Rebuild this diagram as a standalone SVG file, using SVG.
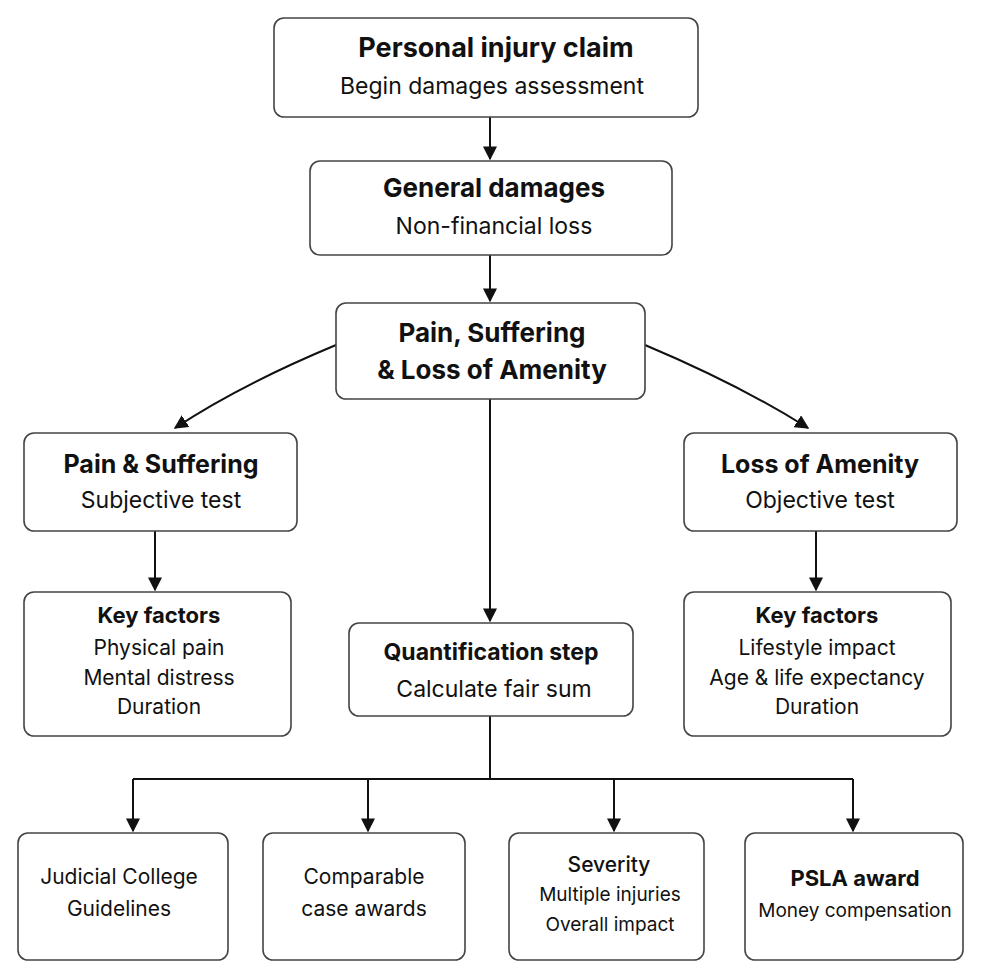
<svg xmlns="http://www.w3.org/2000/svg" width="981" height="979" viewBox="0 0 981 979">
<defs>
<marker id="ah" viewBox="0 0 10 10" refX="9" refY="5" markerWidth="7" markerHeight="7" orient="auto"><path d="M0,0 L10,5 L0,10 z" fill="#111"/></marker>
<style>
.b{fill:#fff;stroke:#444;stroke-width:1.6}
text{font-family:Inter,"Liberation Sans",sans-serif;fill:#111;text-anchor:middle}
.t{font-weight:bold;font-size:26px}
.s{font-size:23px}
.m{font-size:21px}
.k{font-size:19px}
.c{fill:none;stroke:#111;stroke-width:2}
</style>
</defs>
<rect width="981" height="979" fill="#fff"/>
<g id="connectors">
<path class="c" d="M490,117 V159" marker-end="url(#ah)"/>
<path class="c" d="M490,255 V301" marker-end="url(#ah)"/>
<path class="c" d="M336,345 Q240,385 175,428" marker-end="url(#ah)"/>
<path class="c" d="M645,345 Q740,385 808,428" marker-end="url(#ah)"/>
<path class="c" d="M490,399 V621" marker-end="url(#ah)"/>
<path class="c" d="M155,531 V590" marker-end="url(#ah)"/>
<path class="c" d="M816,531 V590" marker-end="url(#ah)"/>
<path class="c" d="M490,716 V779 M133,779 H853"/>
<path class="c" d="M133,779 V831" marker-end="url(#ah)"/>
<path class="c" d="M368,779 V831" marker-end="url(#ah)"/>
<path class="c" d="M614,779 V831" marker-end="url(#ah)"/>
<path class="c" d="M853,779 V831" marker-end="url(#ah)"/>
</g>
<g id="n1"><rect class="b" x="274" y="18" width="424" height="99" rx="10"/><text class="t" x="496" y="57" style="font-size:27px">Personal injury claim</text><text class="s" x="492" y="94">Begin damages assessment</text></g>
<g id="n2"><rect class="b" x="310" y="161" width="362" height="94" rx="10"/><text class="t" x="494" y="197">General damages</text><text class="s" x="494" y="234">Non-financial loss</text></g>
<g id="n3"><rect class="b" x="336" y="303" width="309" height="96" rx="10"/><text class="t" x="492" y="342">Pain, Suffering</text><text class="t" x="492" y="379">&amp; Loss of Amenity</text></g>
<g id="n4"><rect class="b" x="24" y="433" width="273" height="98" rx="10"/><text class="t" x="161" y="473" style="font-size:25px">Pain &amp; Suffering</text><text class="s" x="161" y="508">Subjective test</text></g>
<g id="n5"><rect class="b" x="684" y="433" width="273" height="98" rx="10"/><text class="t" x="820" y="473" style="font-size:25px">Loss of Amenity</text><text class="s" x="820" y="508">Objective test</text></g>
<g id="n6"><rect class="b" x="24" y="592" width="267" height="144" rx="10"/><text class="t" x="159" y="623" style="font-size:22px">Key factors</text><text class="m" x="159" y="655">Physical pain</text><text class="m" x="159" y="685">Mental distress</text><text class="m" x="159" y="714">Duration</text></g>
<g id="n7"><rect class="b" x="684" y="592" width="267" height="144" rx="10"/><text class="t" x="817" y="623" style="font-size:22px">Key factors</text><text class="m" x="817" y="655">Lifestyle impact</text><text class="m" x="817" y="685">Age &amp; life expectancy</text><text class="m" x="817" y="714">Duration</text></g>
<g id="n8"><rect class="b" x="349" y="623" width="284" height="93" rx="10"/><text class="t" x="491" y="660" style="font-size:23px">Quantification step</text><text class="s" x="494" y="697">Calculate fair sum</text></g>
<g id="n9"><rect class="b" x="18" y="833" width="210" height="127" rx="10"/><text class="m" x="119" y="884">Judicial College</text><text class="m" x="119" y="916">Guidelines</text></g>
<g id="n10"><rect class="b" x="263" y="833" width="202" height="127" rx="10"/><text class="m" x="364" y="884">Comparable</text><text class="m" x="364" y="916">case awards</text></g>
<g id="n11"><rect class="b" x="509" y="833" width="195" height="127" rx="10"/><text class="m" x="609" y="872" style="font-weight:500">Severity</text><text class="k" x="610" y="901">Multiple injuries</text><text class="k" x="610" y="931">Overall impact</text></g>
<g id="n12"><rect class="b" x="745" y="833" width="218" height="127" rx="10"/><text class="t" x="855" y="886" style="font-size:22px">PSLA award</text><text class="k" x="855" y="917">Money compensation</text></g>
</svg>
